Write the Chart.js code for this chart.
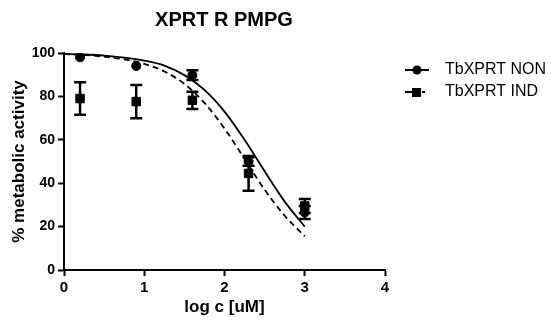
<!DOCTYPE html>
<html>
<head>
<meta charset="utf-8">
<script src="https://cdn.jsdelivr.net/npm/chart.js@4/dist/chart.umd.min.js"></script>
<style>
  body { margin: 0; background: #fff; }
  #wrap { width: 551px; height: 320px; }
</style>
</head>
<body>
<div id="wrap"><canvas id="xprtChart" width="551" height="320"></canvas></div>
<script>
// datos
const doseX = [0.2, 0.9, 1.6, 2.3, 3.0];
const nonMean = [98, 94, 89.8, 50, 26.5];
const nonErr = [0, 0, 2.2, 2, 3];
const indMean = [79, 77.6, 78.2, 44.5, 29.5];
const indErr = [7.5, 7.7, 4, 8, 3.2];

// curvas ajustadas
const curveX = [0, 0.25, 0.5, 0.75, 1.0, 1.25, 1.5, 1.75, 2.0, 2.25, 2.5, 2.75, 3.0];
const nonCurve = [99.6, 99.3, 98.8, 97.9, 96.5, 94.2, 89.8, 83.0, 73.0, 60.0, 45.5, 31.5, 20.0];
const indCurve = [99.5, 99.1, 98.3, 97.1, 95.0, 91.5, 85.8, 77.0, 65.2, 51.2, 37.0, 25.0, 15.5];

const xTicks = [0, 1, 2, 3, 4];
const yTicks = [0, 20, 40, 60, 80, 100];

const FONT = "'Liberation Sans', Arial, sans-serif";

const toPts = (xs, ys) => xs.map((x, i) => ({ x: x, y: ys[i] }));

const extras = {
    id: 'extras',
    afterDatasetsDraw(chart) {
        const ctx = chart.ctx;
        const xs = chart.scales.x;
        const ys = chart.scales.y;
        ctx.save();
        ctx.strokeStyle = '#000';
        ctx.lineWidth = 2.5;
        // barras de error
        [[nonMean, nonErr], [indMean, indErr]].forEach(([m, e]) => {
            doseX.forEach((x, i) => {
                if (!e[i]) return;
                const px = xs.getPixelForValue(x);
                const top = ys.getPixelForValue(m[i] + e[i]);
                const bot = ys.getPixelForValue(m[i] - e[i]);
                ctx.beginPath();
                ctx.moveTo(px, top); ctx.lineTo(px, bot);
                ctx.moveTo(px - 6, top); ctx.lineTo(px + 6, top);
                ctx.moveTo(px - 6, bot); ctx.lineTo(px + 6, bot);
                ctx.stroke();
            });
        });
        ctx.restore();
    },
    afterDraw(chart) {
        const ctx = chart.ctx;
        ctx.save();
        ctx.fillStyle = '#000';
        ctx.textBaseline = 'middle';
        // titulo
        ctx.font = 'bold 20px ' + FONT;
        ctx.textAlign = 'center';
        ctx.fillText('XPRT R PMPG', 224, 20);
        // leyenda
        ctx.textAlign = 'left';
        ctx.font = '16px ' + FONT;
        ctx.strokeStyle = '#000';
        ctx.lineWidth = 2;
        ctx.beginPath();
        ctx.moveTo(405, 70); ctx.lineTo(429, 70);
        ctx.stroke();
        ctx.beginPath();
        ctx.arc(417, 70, 4.5, 0, Math.PI * 2);
        ctx.fill();
        ctx.fillText('TbXPRT NON', 445, 70);

        ctx.beginPath();
        ctx.moveTo(405, 92); ctx.lineTo(412, 92);
        ctx.moveTo(422, 92); ctx.lineTo(425, 92);
        ctx.stroke();
        ctx.fillRect(412, 88, 9, 9);
        ctx.fillText('TbXPRT IND', 445, 92);
        ctx.restore();
    }
};

const axisStyle = {
    border: { display: true, color: '#000', width: 2 },
    grid: { display: true, drawOnChartArea: false, drawTicks: true, tickLength: 6, tickColor: '#000', tickWidth: 2 },
};

new Chart(document.getElementById('xprtChart'), {
    type: 'scatter',
    data: {
        datasets: [
            {
                label: 'TbXPRT NON fit',
                type: 'line',
                data: toPts(curveX, nonCurve),
                borderColor: '#000',
                borderWidth: 1.8,
                pointRadius: 0,
                cubicInterpolationMode: 'monotone',
                fill: false
            },
            {
                label: 'TbXPRT IND fit',
                type: 'line',
                data: toPts(curveX, indCurve),
                borderColor: '#000',
                borderWidth: 1.8,
                borderDash: [6, 4],
                pointRadius: 0,
                cubicInterpolationMode: 'monotone',
                fill: false
            },
            {
                label: 'TbXPRT NON',
                data: toPts(doseX, nonMean),
                backgroundColor: '#000',
                borderColor: '#000',
                pointStyle: 'circle',
                pointRadius: 4.5,
                showLine: false
            },
            {
                label: 'TbXPRT IND',
                data: toPts(doseX, indMean),
                backgroundColor: '#000',
                borderColor: '#000',
                pointStyle: 'rect',
                pointRadius: 6,
                showLine: false
            }
        ]
    },
    options: {
        responsive: false,
        animation: false,
        layout: { padding: { left: 0, top: 53, right: 166, bottom: 0 } },
        plugins: {
            legend: { display: false },
            title: { display: false },
            tooltip: { enabled: false }
        },
        scales: {
            x: {
                type: 'linear',
                min: 0,
                max: 4,
                afterFit: s => { s.height = 50; },
                afterBuildTicks: s => { s.ticks = xTicks.map(v => ({ value: v })); },
                ticks: { color: '#000', font: { family: FONT, size: 15, weight: 'bold' }, padding: 3 },
                title: { display: true, text: 'log c [uM]', color: '#000', font: { family: FONT, size: 17, weight: 'bold' }, padding: { top: 0, bottom: 2 } },
                ...axisStyle
            },
            y: {
                type: 'linear',
                min: 0,
                max: 100,
                afterFit: s => { s.width = 64; },
                afterBuildTicks: s => { s.ticks = yTicks.map(v => ({ value: v })); },
                ticks: { color: '#000', font: { family: FONT, size: 14, weight: 'bold' }, padding: 3 },
                title: { display: true, text: '% metabolic activity', color: '#000', font: { family: FONT, size: 17, weight: 'bold' }, padding: { top: 9, bottom: 0 } },
                ...axisStyle
            }
        }
    },
    plugins: [extras]
});
</script>
</body>
</html>
